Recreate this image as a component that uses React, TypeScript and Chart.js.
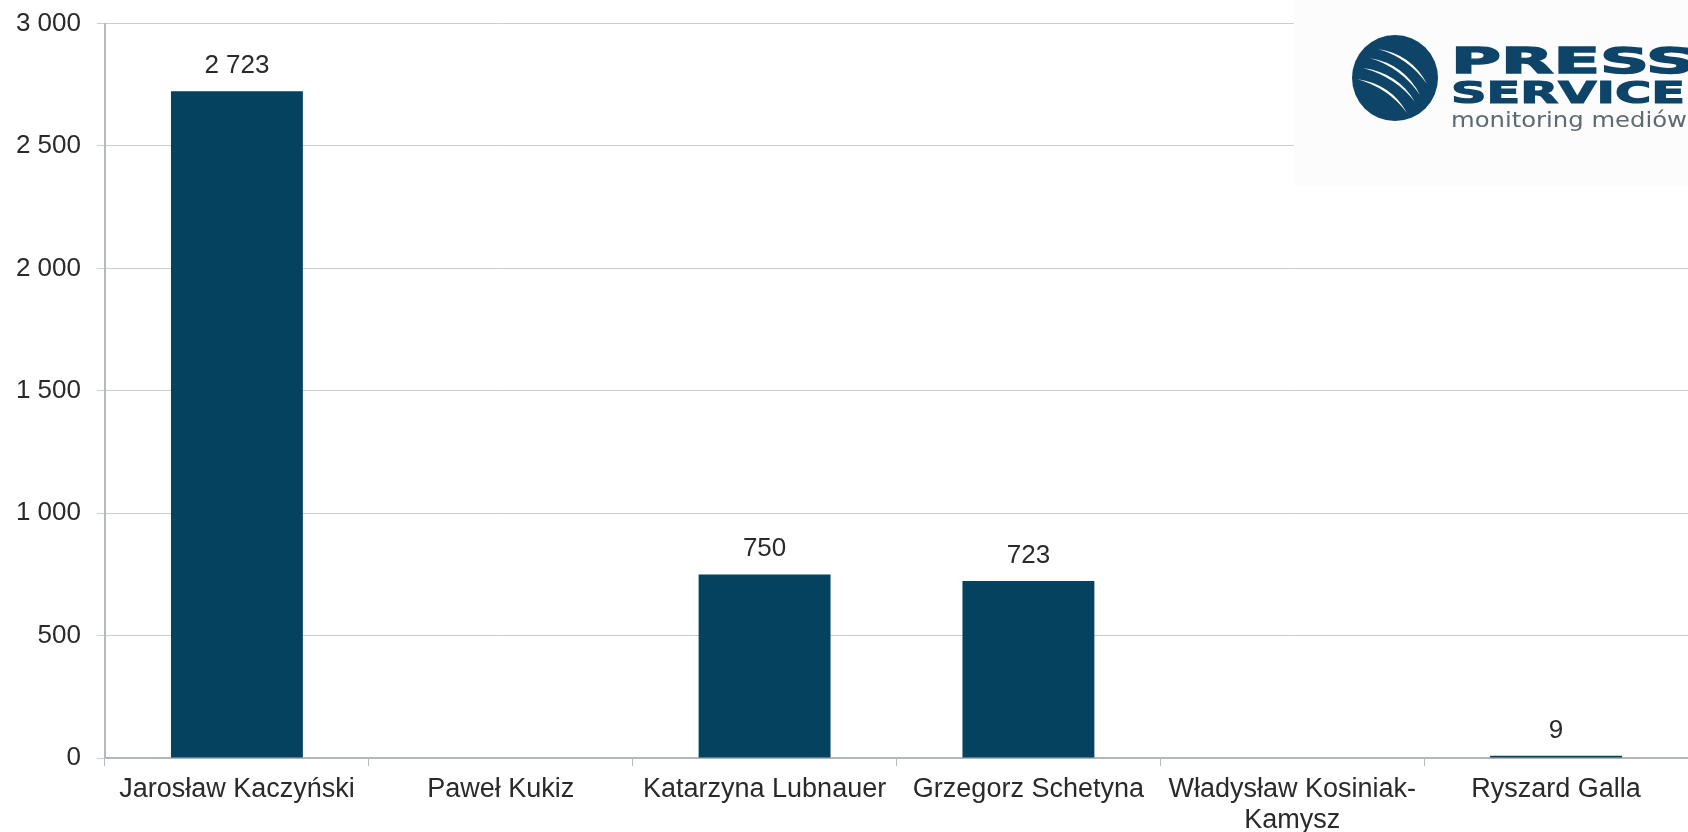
import { useEffect, useRef } from 'react';
import { Chart, registerables } from 'chart.js';

Chart.register(...registerables);

const categories: (string | string[])[] = [
  'Jarosław Kaczyński',
  'Paweł Kukiz',
  'Katarzyna Lubnauer',
  'Grzegorz Schetyna',
  ['Władysław Kosiniak-', 'Kamysz'],
  'Ryszard Galla',
];
const values = [2723, 0, 750, 723, 0, 9];
const yMin = 0;
const yMax = 3000;
const yStep = 500;

const FONT = "'Liberation Sans', Arial, sans-serif";
const TEXT = '#2a2a2a';
const BAR = '#04425f';
const LOGO_BLUE = '#0e4467';

const fmt = (v: number) => String(Math.round(v)).replace(/\B(?=(\d{3})+(?!\d))/g, ' ');

const valueLabels = {
  id: 'valueLabels',
  afterDatasetsDraw(chart: any) {
    const ctx = chart.ctx;
    const meta = chart.getDatasetMeta(0);
    ctx.save();
    ctx.font = `26px ${FONT}`;
    ctx.fillStyle = TEXT;
    ctx.textAlign = 'center';
    ctx.textBaseline = 'alphabetic';
    meta.data.forEach((bar: any, i: number) => {
      const v = chart.data.datasets[0].data[i];
      if (!v) return;
      ctx.fillText(fmt(v), bar.x, bar.y - 18);
    });
    ctx.restore();
  },
};

const logo = {
  id: 'logo',
  afterDraw(chart: any) {
    const ctx = chart.ctx;
    const W = chart.width;
    const ox = W - 394;
    ctx.save();
    ctx.fillStyle = '#fcfcfc';
    ctx.fillRect(ox, 0, 394, 186);
    // circle
    const cx = ox + 101;
    const cy = 78;
    ctx.fillStyle = LOGO_BLUE;
    ctx.beginPath();
    ctx.arc(cx, cy, 43, 0, Math.PI * 2);
    ctx.fill();
    // stripes (tapered crescents)
    ctx.fillStyle = '#ffffff';
    const stripes = [
      [-17, -29, 15, -22, 32, 6],
      [-25, -20, 8, -12, 25, 17],
      [-32, -10, 2, -3, 20, 24],
      [-38, 1, -5, 8, 12, 35],
    ];
    stripes.forEach((s) => {
      const [x0, y0, qx, qy, x1, y1] = s;
      const dx = x1 - x0;
      const dy = y1 - y0;
      const len = Math.hypot(dx, dy);
      const nx = dy / len;
      const ny = -dx / len;
      const t = 2.4;
      ctx.beginPath();
      ctx.moveTo(cx + x0, cy + y0);
      ctx.quadraticCurveTo(cx + qx - nx * t, cy + qy - ny * t, cx + x1, cy + y1);
      ctx.quadraticCurveTo(cx + qx + nx * t, cy + qy + ny * t, cx + x0, cy + y0);
      ctx.closePath();
      ctx.fill();
    });
    const fitText = (
      text: string,
      x: number,
      y: number,
      w: number,
      font: string,
      color: string,
      stroke: number
    ) => {
      ctx.font = font;
      ctx.fillStyle = color;
      ctx.strokeStyle = color;
      ctx.textAlign = 'left';
      ctx.textBaseline = 'alphabetic';
      const m = ctx.measureText(text).width;
      ctx.save();
      ctx.translate(x, y);
      ctx.scale(w / m, 1);
      ctx.fillText(text, 0, 0);
      if (stroke > 0) {
        ctx.lineWidth = stroke;
        ctx.lineJoin = 'miter';
        ctx.strokeText(text, 0, 0);
      }
      ctx.restore();
    };
    const tx = ox + 157;
    fitText('PRESS', tx, 73, 244, "bold 35px 'DejaVu Sans'", LOGO_BLUE, 1.4);
    fitText('SERVICE', tx, 103, 234, "bold 31px 'DejaVu Sans'", LOGO_BLUE, 1.2);
    fitText('monitoring mediów', tx, 127, 236, "22px 'DejaVu Sans'", '#5c6a72', 0);
    ctx.restore();
  },
};

export default function App() {
  const ref = useRef<HTMLCanvasElement | null>(null);
  useEffect(() => {
    if (!ref.current) return;
    const chart = new Chart(ref.current, {
      type: 'bar',
      data: {
        labels: categories,
        datasets: [
          {
            data: values,
            backgroundColor: BAR,
            borderWidth: 0,
            barPercentage: 0.5,
            categoryPercentage: 1.0,
          },
        ],
      },
      options: {
        animation: false,
        responsive: false,
        devicePixelRatio: 1,
        layout: { padding: { top: 23.5, left: 0, right: 0, bottom: 0 } },
        plugins: {
          legend: { display: false },
          tooltip: { enabled: false },
          title: { display: false },
        },
        scales: {
          x: {
            afterFit: (s: any) => {
              s.height = 74;
              s.paddingLeft = 0;
              s.paddingRight = 0;
            },
            grid: {
              drawOnChartArea: false,
              drawTicks: true,
              tickLength: 8,
              color: '#b4babe',
              lineWidth: 1,
            },
            border: { display: true, color: '#b0b6ba', width: 2 },
            ticks: {
              autoSkip: false,
              maxRotation: 0,
              minRotation: 0,
              padding: 8,
              color: TEXT,
              font: { family: FONT, size: 27, lineHeight: 1.15 },
            },
          },
          y: {
            min: yMin,
            max: yMax,
            afterFit: (s: any) => {
              s.width = 105;
              s.paddingTop = 0;
              s.paddingBottom = 0;
            },
            grid: {
              color: '#c8cdd1',
              lineWidth: 1,
              drawTicks: true,
              tickLength: 8,
            },
            border: { display: true, color: '#b4babe', width: 2 },
            ticks: {
              stepSize: yStep,
              padding: 16,
              color: TEXT,
              font: { family: FONT, size: 26 },
              callback: (v: any) => fmt(Number(v)),
            },
          },
        },
      },
      plugins: [valueLabels, logo],
    });
    return () => chart.destroy();
  }, []);
  return (
    <div style={{ position: 'absolute', left: 0, top: 0, width: 1688, height: 832, background: '#ffffff' }}>
      <canvas ref={ref} width={1688} height={832} style={{ display: 'block' }} />
    </div>
  );
}
